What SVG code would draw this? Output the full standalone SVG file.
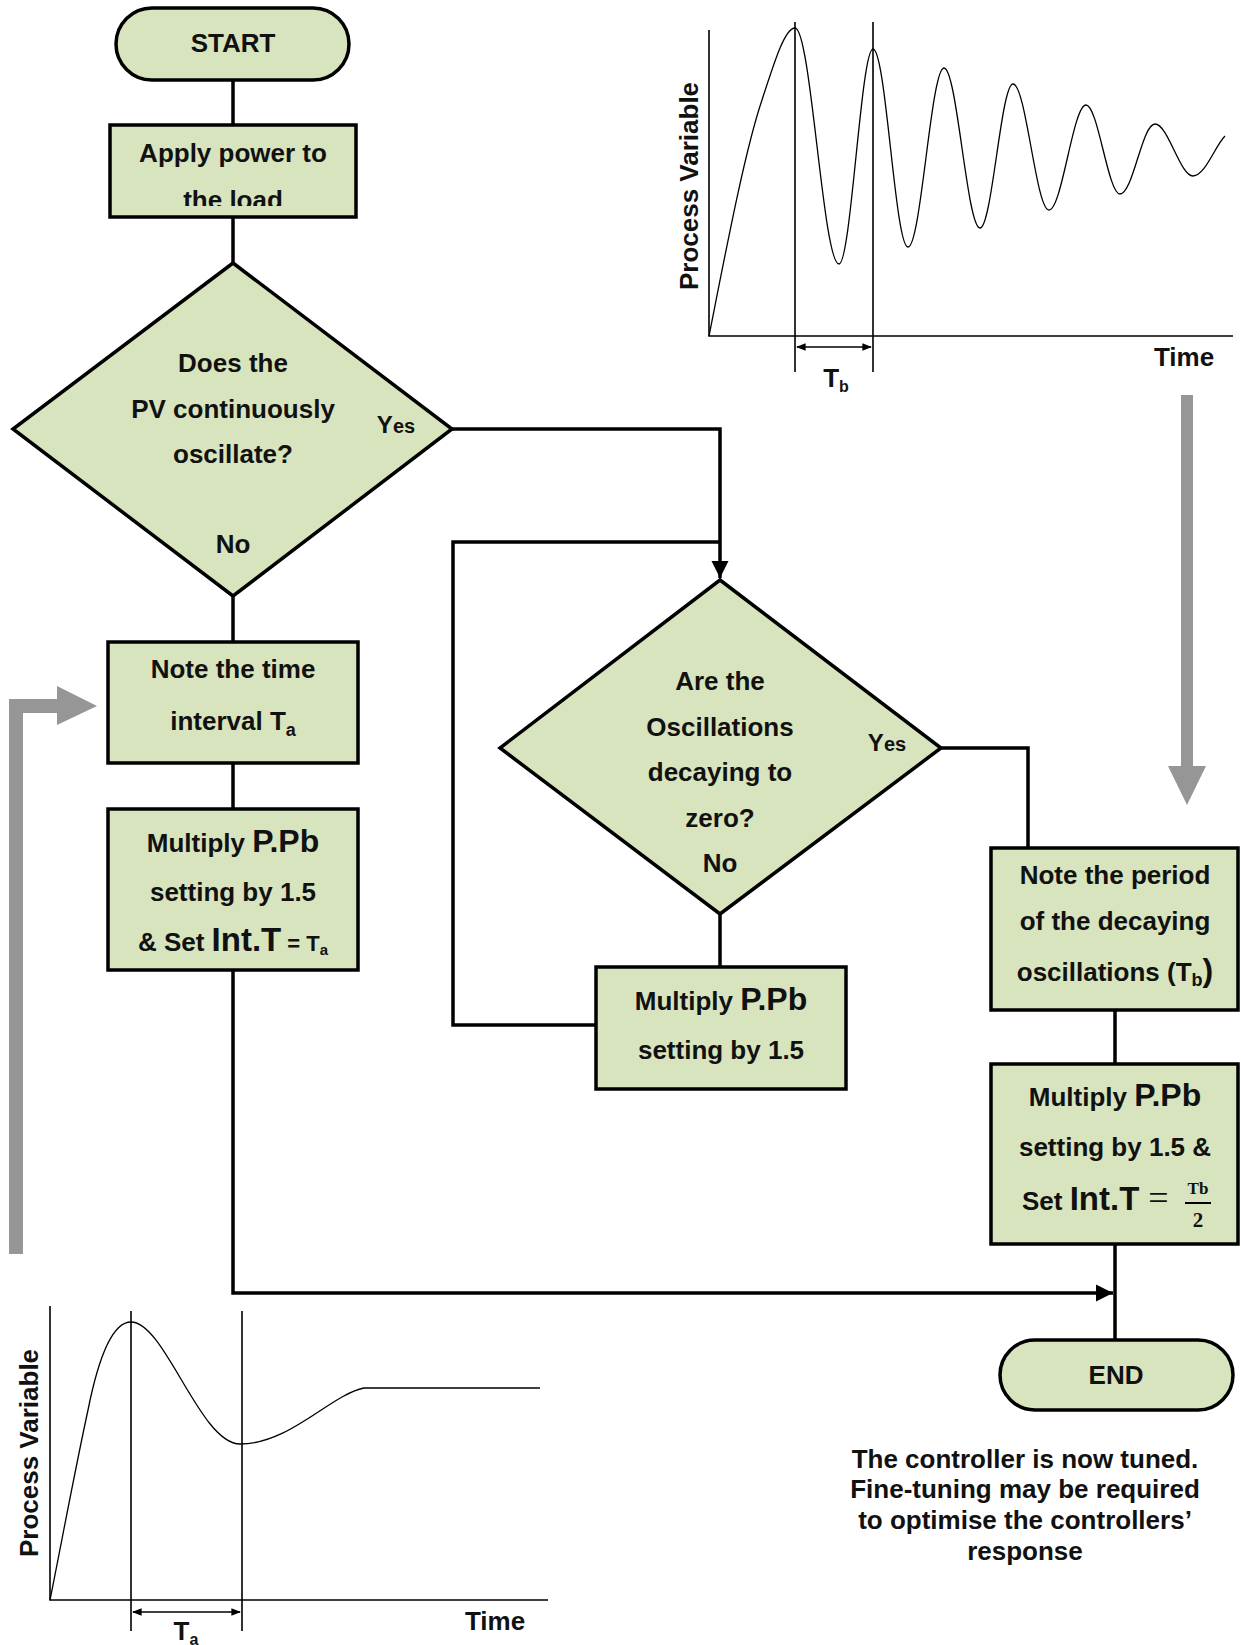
<svg xmlns="http://www.w3.org/2000/svg" width="1241" height="1645" viewBox="0 0 1241 1645">
<style>
.node{fill:#D7E4BD;stroke:#000;stroke-width:3.5}
.t{font-family:"Liberation Sans",Arial,sans-serif;font-weight:bold;font-size:26px;fill:#111;text-anchor:middle}
.ts{font-family:"Liberation Sans",Arial,sans-serif;font-weight:bold;fill:#111}
.serif{font-family:"Liberation Serif","Times New Roman",serif}
.conn{fill:none;stroke:#000;stroke-width:3.5}
.axis{fill:none;stroke:#000;stroke-width:1.6}
.curve{fill:none;stroke:#000;stroke-width:1.3}
.gray{fill:#969696;stroke:none}
</style>
<defs>
<marker id="arr" viewBox="0 0 10 10" refX="10" refY="5" markerWidth="5" markerHeight="5" orient="auto" markerUnits="strokeWidth">
<path d="M0,0 L10,5 L0,10 z" fill="#000"/>
</marker>
<marker id="sarr" viewBox="0 0 10 10" refX="9" refY="5" markerWidth="6" markerHeight="6" orient="auto-start-reverse" markerUnits="strokeWidth">
<path d="M0,1 L10,5 L0,9 z" fill="#000"/>
</marker>
<clipPath id="clipApply"><rect x="110" y="125" width="246" height="81"/></clipPath>
</defs>

<!-- Gray arrows -->
<g id="gray-arrow-left"><polygon class="gray" points="9,1254 9,699 57,699 57,686 97,706 57,725 57,713 23,713 23,1254"/></g>
<g id="gray-arrow-right"><polygon class="gray" points="1181,395 1193,395 1193,766 1206,766 1187,805 1168,766 1181,766"/></g>

<!-- Connectors -->
<g id="connectors">
<path class="conn" d="M233,80 V125"/>
<path class="conn" d="M233,217 V263"/>
<path class="conn" d="M233,596 V642"/>
<path class="conn" d="M233,763 V809"/>
<path class="conn" d="M452,429 H720 V578" marker-end="url(#arr)"/>
<path class="conn" d="M596,1025 H453 V542 H720"/>
<path class="conn" d="M720,914 V967"/>
<path class="conn" d="M941,748 H1028 V848"/>
<path class="conn" d="M1115,1010 V1064"/>
<path class="conn" d="M1115,1244 V1340"/>
<path class="conn" d="M233,970 V1293 H1113" marker-end="url(#arr)"/>
</g>

<!-- Nodes -->
<g id="start">
<rect class="node" x="116" y="8" width="233" height="72" rx="36"/>
<text class="t" x="233" y="52">START</text>
</g>

<g id="apply-power">
<rect class="node" x="110" y="125" width="246" height="92"/>
<text class="t" x="233" y="162">Apply power to</text>
<text class="t" x="233" y="209" clip-path="url(#clipApply)">the load</text>
</g>

<g id="decision-oscillate">
<polygon class="node" points="233,263 452,429 233,596 13,429"/>
<text class="t" x="233" y="372">Does the</text>
<text class="t" x="233" y="418">PV continuously</text>
<text class="t" x="233" y="463">oscillate?</text>
<text class="t" x="396" y="433"><tspan font-size="24">Y</tspan><tspan font-size="20">es</tspan></text>
<text class="t" x="233" y="553">No</text>
</g>

<g id="note-time">
<rect class="node" x="108" y="642" width="250" height="121"/>
<text class="t" x="233" y="678">Note the time</text>
<text class="t" x="233" y="730">interval T<tspan font-size="18" dy="6">a</tspan></text>
</g>

<g id="multiply-1">
<rect class="node" x="108" y="809" width="250" height="161"/>
<text class="t" x="233" y="852">Multiply <tspan font-size="32">P.Pb</tspan></text>
<text class="t" x="233" y="901">setting by 1.5</text>
<text class="t" x="233" y="951">&amp; Set <tspan font-size="33">Int.T</tspan><tspan font-size="22"> = T</tspan><tspan font-size="15" dy="4">a</tspan></text>
</g>

<g id="decision-decaying">
<polygon class="node" points="720,580 941,748 720,914 500,748"/>
<text class="t" x="720" y="690">Are the</text>
<text class="t" x="720" y="736">Oscillations</text>
<text class="t" x="720" y="781">decaying to</text>
<text class="t" x="720" y="827">zero?</text>
<text class="t" x="720" y="872">No</text>
<text class="t" x="887" y="751"><tspan font-size="24">Y</tspan><tspan font-size="20">es</tspan></text>
</g>

<g id="multiply-2">
<rect class="node" x="596" y="967" width="250" height="122"/>
<text class="t" x="721" y="1010">Multiply <tspan font-size="32">P.Pb</tspan></text>
<text class="t" x="721" y="1059">setting by 1.5</text>
</g>

<g id="note-period">
<rect class="node" x="991" y="848" width="247" height="162"/>
<text class="t" x="1115" y="884">Note the period</text>
<text class="t" x="1115" y="930">of the decaying</text>
<text class="t" x="1115" y="981">oscillations (T<tspan font-size="18" dy="5">b</tspan><tspan font-size="32" dy="-5">)</tspan></text>
</g>

<g id="multiply-3">
<rect class="node" x="991" y="1064" width="247" height="180"/>
<text class="t" x="1115" y="1106">Multiply <tspan font-size="32">P.Pb</tspan></text>
<text class="t" x="1115" y="1156">setting by 1.5 &amp;</text>
<text class="ts" x="1022" y="1210" font-size="26">Set <tspan font-size="33">Int.T</tspan><tspan class="serif" font-weight="normal" font-size="36"> =</tspan></text>
<text class="ts serif" x="1198" y="1194" font-size="17" text-anchor="middle">Tb</text>
<line x1="1185" y1="1203" x2="1211" y2="1203" stroke="#000" stroke-width="2"/>
<text class="ts serif" x="1198" y="1227" font-size="21" text-anchor="middle">2</text>
</g>

<g id="end">
<rect class="node" x="1000" y="1340" width="233" height="70" rx="35"/>
<text class="t" x="1116" y="1384">END</text>
</g>

<g id="note-text">
<text class="t" x="1025" y="1468">The controller is now tuned.</text>
<text class="t" x="1025" y="1498">Fine-tuning may be required</text>
<text class="t" x="1025" y="1529">to optimise the controllers’</text>
<text class="t" x="1025" y="1560">response</text>
</g>

<!-- Top-right graph -->
<g id="graph-decaying">
<path class="axis" d="M709,30 V336 H1233"/>
<path class="axis" d="M795,22 V372 M873,22 V372"/>
<path class="axis" stroke-width="2" d="M797,347 H871" marker-start="url(#sarr)" marker-end="url(#sarr)"/>
<path class="curve" d="M709,336 C726,250 745,150 762,100 C775,60 785,28 795,28
C811,28 823,264 839,264 C851,264 861,49 873,49
C886,49 895,247 908,247 C921,247 931,68 944,68
C957,68 967,228 980,228 C992,228 1001,84 1013,84
C1026,84 1036,210 1049,210 C1062,210 1073,105 1086,105
C1098,105 1108,194 1120,194 C1133,194 1142,124 1155,124
C1168,124 1180,176 1193,176 C1205,176 1215,146 1225,136"/>
<text class="t" transform="translate(698,186) rotate(-90)">Process Variable</text>
<text class="t" x="1184" y="366">Time</text>
<text class="t" x="836" y="387" font-size="24">T<tspan font-size="16" dy="5">b</tspan></text>
</g>

<!-- Bottom-left graph -->
<g id="graph-settling">
<path class="axis" d="M50,1306 V1600 H548"/>
<path class="axis" d="M131,1311 V1631 M242,1311 V1631"/>
<path class="axis" stroke-width="2" d="M133,1612 H240" marker-start="url(#sarr)" marker-end="url(#sarr)"/>
<path class="curve" d="M50,1600 C62,1540 75,1470 88,1410 C98,1360 112,1322 131,1322
C165,1322 200,1444 240,1444 C290,1444 330,1395 364,1388 H540"/>
<text class="t" transform="translate(38,1453) rotate(-90)">Process Variable</text>
<text class="t" x="495" y="1630">Time</text>
<text class="t" x="186" y="1640" font-size="24">T<tspan font-size="16" dy="5">a</tspan></text>
</g>
</svg>
